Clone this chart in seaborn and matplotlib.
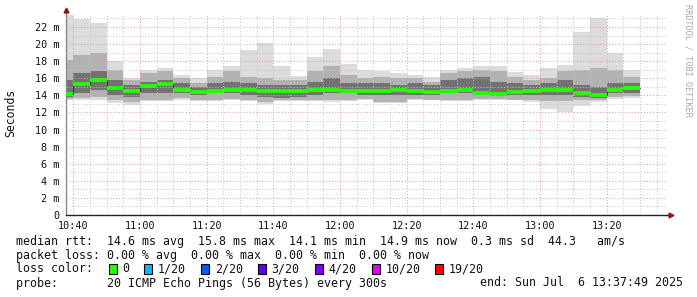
import matplotlib
matplotlib.use("Agg")
import matplotlib.pyplot as plt
import seaborn as sns
import pandas as pd
import numpy as np
from matplotlib.ticker import MultipleLocator, FuncFormatter
from matplotlib.patches import Rectangle
from matplotlib.lines import Line2D

# 5 minute steps, start of each step as minutes since midnight (10:35 ... 13:25)
step_start = [h * 60 + m for h, m in
              [(10, 35), (10, 40), (10, 45), (10, 50), (10, 55), (11, 0), (11, 5), (11, 10),
               (11, 15), (11, 20), (11, 25), (11, 30), (11, 35), (11, 40), (11, 45), (11, 50),
               (11, 55), (12, 0), (12, 5), (12, 10), (12, 15), (12, 20), (12, 25), (12, 30),
               (12, 35), (12, 40), (12, 45), (12, 50), (12, 55), (13, 0), (13, 5), (13, 10),
               (13, 15), (13, 20), (13, 25)]]

# median rtt (ms)
median = [14.16, 15.3, 15.76, 14.86, 14.47, 15.06, 15.3, 14.6, 14.36, 14.55,
          14.6, 14.6, 14.47, 14.47, 14.47, 14.6, 14.6, 14.55, 14.47, 14.5,
          14.6, 14.55, 14.4, 14.5, 14.6, 14.3, 14.16, 14.4, 14.5, 14.6,
          14.6, 14.3, 14.1, 14.6, 14.9]
# smoke: max / min of the 20 pings
ping_max = [23.4, 22.9, 22.5, 18.0, 16.0, 16.97, 17.2, 16.4, 16.0, 16.97,
            17.4, 19.3, 20.1, 17.4, 16.3, 18.5, 19.4, 17.7, 17.0, 16.8,
            16.6, 16.4, 16.2, 17.0, 17.2, 17.4, 17.4, 16.7, 16.4, 17.2,
            17.6, 21.4, 23.05, 18.9, 17.0]
ping_min = [13.5, 13.5, 13.4, 13.15, 12.9, 13.3, 13.3, 13.4, 13.3, 13.3,
            13.45, 13.3, 13.0, 13.3, 13.3, 13.3, 13.2, 13.3, 13.5, 13.1,
            13.1, 13.4, 13.4, 13.3, 13.3, 13.45, 13.5, 13.4, 13.2, 12.45,
            12.1, 12.8, 13.2, 13.55, 13.65]
# inner smoke bands
p90 = [18.1, 18.7, 19.0, 17.0, 15.8, 16.6, 16.8, 16.0, 15.4, 16.2,
       16.8, 16.2, 16.0, 15.8, 15.8, 16.8, 17.4, 16.4, 16.0, 16.2,
       16.0, 16.0, 15.6, 16.6, 16.8, 17.0, 16.8, 16.2, 15.8, 16.0,
       16.8, 17.0, 17.2, 17.0, 16.2]
p70 = [15.8, 16.6, 16.8, 15.8, 15.2, 15.6, 15.8, 15.4, 15.0, 15.4,
       15.6, 15.4, 15.2, 15.2, 15.2, 15.6, 16.0, 15.4, 15.4, 15.4,
       15.2, 15.4, 15.2, 15.8, 16.0, 16.2, 15.6, 15.4, 15.2, 15.4,
       15.8, 15.2, 15.0, 15.4, 15.4]
p30 = [13.85, 14.24, 14.6, 14.0, 13.85, 14.24, 14.24, 14.24, 14.0, 14.24,
       14.24, 14.0, 13.85, 13.65, 13.85, 14.0, 14.24, 14.24, 14.0, 14.0,
       14.0, 14.0, 14.0, 14.24, 14.24, 14.0, 13.9, 14.0, 14.0, 14.0,
       14.0, 13.85, 13.65, 14.24, 14.24]
p10 = [13.6, 13.65, 13.85, 13.45, 13.26, 13.45, 13.45, 13.65, 13.45, 13.45,
       13.6, 13.4, 13.26, 13.4, 13.4, 13.45, 13.45, 13.45, 13.6, 13.26,
       13.26, 13.6, 13.5, 13.45, 13.45, 13.6, 13.6, 13.5, 13.45, 13.3,
       13.3, 13.45, 13.45, 13.85, 13.95]

loss_labels = ["0", "1/20", "2/20", "3/20", "4/20", "10/20", "19/20"]
loss_colors = ["#26ff00", "#00b8ff", "#0059ff", "#5e00ff", "#7e00ff", "#dd00ff", "#ff0000"]

x_start = 10 * 60 + 37 + 49 / 60
x_end = 13 * 60 + 37 + 49 / 60

df = pd.DataFrame({"t": step_start, "median": median, "max": ping_max, "min": ping_min,
                   "p90": p90, "p70": p70, "p30": p30, "p10": p10})

W, H = 697, 297
sns.set_style("white")
plt.rcParams["font.family"] = ["DejaVu Sans Mono"]

fig = plt.figure(figsize=(W / 100, H / 100), dpi=100)
ax = fig.add_axes([66 / W, 1 - 215 / H, 600 / W, 201 / H])

step = 5
ax.bar(df.t, df["max"] - df["min"], bottom=df["min"], width=step, align="edge",
       color="#dcdcdc", linewidth=0)
ax.bar(df.t, df.p90 - df.p10, bottom=df.p10, width=step, align="edge",
       color="#b2b2b2", linewidth=0)
ax.bar(df.t, df.p70 - df.p30, bottom=df.p30, width=step, align="edge",
       color="#727272", linewidth=0)

# black step line connecting medians
line_df = pd.concat([df[["t", "median"]],
                     pd.DataFrame({"t": [df.t.iloc[-1] + step], "median": [df["median"].iloc[-1]]})])
sns.lineplot(data=line_df, x="t", y="median", drawstyle="steps-post", color="#202020",
             linewidth=0.6, ax=ax, zorder=3)
ax.hlines(df["median"], df.t, df.t + step, color=loss_colors[0], linewidth=2.7, zorder=4)

ax.set_xlim(x_start, x_end)
ax.set_ylim(0, 201 / 8.545)
ax.set_axisbelow(False)

ax.xaxis.set_major_locator(MultipleLocator(20))
ax.xaxis.set_minor_locator(MultipleLocator(5))
ax.yaxis.set_major_locator(MultipleLocator(2))
ax.yaxis.set_minor_locator(MultipleLocator(1))
ax.xaxis.set_major_formatter(FuncFormatter(lambda v, p: f"{int(v) // 60}:{int(v) % 60:02d}"))
ax.yaxis.set_major_formatter(FuncFormatter(lambda v, p: "0" if v == 0 else f"{v:.0f} m"))

ax.grid(which="major", color="#e89a9a", linestyle=(0, (1, 2)), linewidth=0.7)
ax.grid(which="minor", color="#c4c4c4", linestyle=(0, (1, 2)), linewidth=0.7)
ax.tick_params(which="both", direction="out", length=2, width=0.7, colors="#555555",
               labelsize=7.3, labelcolor="#111111", pad=2.5)
ax.tick_params(which="minor", length=1.5)

for s in ["top", "right"]:
    ax.spines[s].set_visible(False)
ax.spines["left"].set_color("#888888")
ax.spines["bottom"].set_color("#222222")
ax.spines["left"].set_linewidth(1.0)
ax.spines["bottom"].set_linewidth(1.0)
ax.set_xlabel("")
ax.set_ylabel("")


def px(x, y):
    return x / W, 1 - y / H


# axis extensions with arrows
fig.add_artist(Line2D([66 / W, 66 / W], [1 - 14 / H, 1 - 10 / H], color="#888888", lw=1.0))
fig.add_artist(Line2D([666 / W, 670 / W], [1 - 215 / H, 1 - 215 / H], color="#222222", lw=1.0))
fig.add_artist(Line2D([66 / W], [1 - 10 / H], marker="^", markersize=3.5, color="#8b1a1a",
                      linestyle="none"))
fig.add_artist(Line2D([671 / W], [1 - 215 / H], marker=">", markersize=3.5, color="#8b1a1a",
                      linestyle="none"))

fig.text(*px(11, 113), "Seconds", rotation=90, ha="center", va="center", fontsize=8.3,
         color="#111111")
fig.text(*px(688, 4), "RRDTOOL / TOBI OETIKER", rotation=270, ha="center", va="top",
         fontsize=6.1, color="#aaaaaa")

cw = 7.1
fs = 8.4
fig.text(*px(16, 241), "median rtt:  14.6 ms avg  15.8 ms max  14.1 ms min  14.9 ms now  "
         "0.3 ms sd  44.3   am/s", fontsize=fs, va="center", color="#111111")
fig.text(*px(16, 255), "packet loss: 0.00 % avg  0.00 % max  0.00 % min  0.00 % now",
         fontsize=fs, va="center", color="#111111")
fig.text(*px(16, 269), "loss color:", fontsize=fs, va="center", color="#111111")
col = 13
for lab, c in zip(loss_labels, loss_colors):
    bx = 16 + col * cw + 0.5
    fig.add_artist(Rectangle((bx / W, 1 - 274 / H), 8 / W, 10 / H, facecolor=c,
                             edgecolor="black", linewidth=0.8, transform=fig.transFigure))
    fig.text(*px(16 + (col + 2) * cw, 269), lab, fontsize=fs, va="center", color="#111111")
    col += 2 + len(lab) + 2
fig.text(*px(16, 283), "probe:       20 ICMP Echo Pings (56 Bytes) every 300s",
         fontsize=fs, va="center", color="#111111")
fig.text(*px(683, 283), "end: Sun Jul  6 13:37:49 2025", fontsize=fs, va="center",
         ha="right", color="#111111")

fig.savefig("out.png", dpi=100)
